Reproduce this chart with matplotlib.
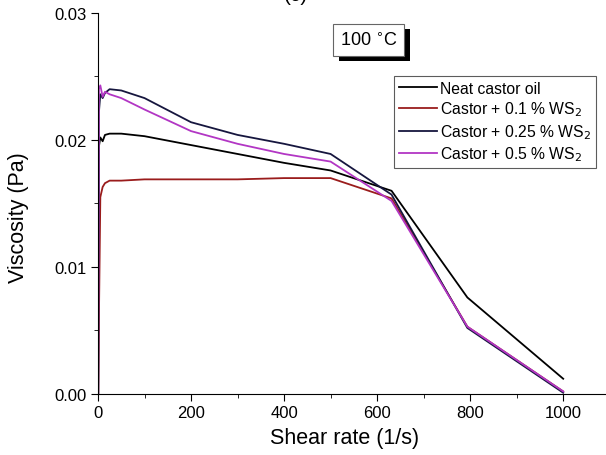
import numpy as np
import matplotlib
matplotlib.use('Agg')
import matplotlib.pyplot as plt
from matplotlib.ticker import MultipleLocator, FormatStrFormatter
from matplotlib.patches import Rectangle

plt.rcParams['font.family'] = ['Liberation Sans', 'DejaVu Sans']

# shear rate (1/s)
shear = [0.5, 2, 5, 10, 15, 25, 50, 100, 200, 300, 400, 500, 631, 794, 1000]

# viscosity (Pa) for each sample
neat = [0.0000, 0.0195, 0.0202, 0.0199, 0.0204, 0.0205, 0.0205, 0.0203,
        0.0196, 0.0189, 0.0182, 0.0176, 0.0160, 0.0076, 0.0012]
ws2_01 = [0.0000, 0.0060, 0.0155, 0.0163, 0.0166, 0.0168, 0.0168, 0.0169,
          0.0169, 0.0169, 0.0170, 0.0170, 0.0154, 0.0053, 0.0002]
ws2_025 = [0.0000, 0.0222, 0.0236, 0.0233, 0.0237, 0.0240, 0.0239, 0.0233,
           0.0214, 0.0204, 0.0197, 0.0189, 0.0157, 0.0052, 0.0001]
ws2_05 = [0.0000, 0.0240, 0.0243, 0.0234, 0.0238, 0.0236, 0.0233, 0.0224,
          0.0207, 0.0197, 0.0189, 0.0183, 0.0152, 0.0053, 0.0002]

labels = ['Neat castor oil', 'Castor + 0.1 % WS$_2$',
          'Castor + 0.25 % WS$_2$', 'Castor + 0.5 % WS$_2$']
colors = ['#000000', '#9a1c1c', '#16163e', '#b236c4']

fig = plt.figure(figsize=(6.06, 4.56), dpi=100)
ax = fig.add_axes([0.1617, 0.1338, 0.8383, 0.8355])

for y, lab, c in zip([neat, ws2_01, ws2_025, ws2_05], labels, colors):
    ax.plot(shear, y, color=c, lw=1.3, label=lab)

ax.set_xlim(0, 1092)
ax.set_ylim(0, 0.03)
ax.xaxis.set_major_locator(MultipleLocator(200))
ax.xaxis.set_minor_locator(MultipleLocator(100))
ax.yaxis.set_major_locator(MultipleLocator(0.01))
ax.yaxis.set_minor_locator(MultipleLocator(0.005))
ax.yaxis.set_major_formatter(FormatStrFormatter('%.2f'))
ax.spines['top'].set_visible(False)
ax.spines['right'].set_visible(False)
ax.tick_params(axis='both', which='major', direction='out', length=5,
               labelsize=12, pad=3)
ax.tick_params(axis='both', which='minor', direction='out', length=3)

ax.set_xlabel('Shear rate (1/s)', fontsize=15.5)
ax.set_ylabel('Viscosity (Pa)', fontsize=15.5)
ax.xaxis.set_label_coords(0.485, -0.087)
ax.yaxis.set_label_coords(-0.135, 0.465)

leg = ax.legend(loc='upper right', bbox_to_anchor=(0.98, 0.835), fontsize=11.3,
                frameon=True, fancybox=False, edgecolor='#333333',
                handlelength=2.4, handletextpad=0.2, labelspacing=0.25,
                borderpad=0.3, borderaxespad=0)
leg.get_frame().set_linewidth(0.8)

# temperature tag with drop shadow
ax.add_patch(Rectangle((0.4744, 0.874), 0.1398, 0.084, transform=ax.transAxes,
                       fc='black', ec='none', zorder=4))
ax.add_patch(Rectangle((0.4626, 0.887), 0.1398, 0.084, transform=ax.transAxes,
                       fc='white', ec='#666666', lw=0.8, zorder=5))
ax.text(0.5325, 0.929, '100 $^{\\circ}$C', transform=ax.transAxes, fontsize=13,
        ha='center', va='center', zorder=6)

fig.text(0.488, 1.0 - 1 / 456, '(c)', fontsize=15, ha='center', va='baseline')

fig.savefig('out.png', dpi=100)
